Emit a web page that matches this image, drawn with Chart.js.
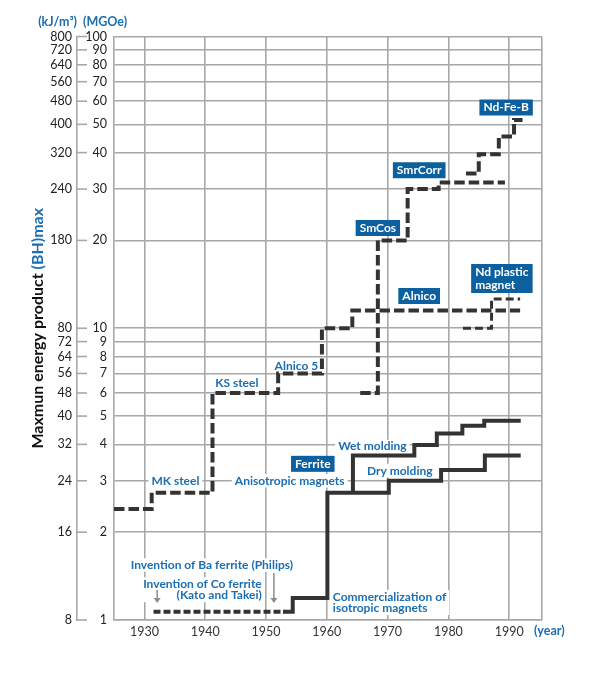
<!DOCTYPE html>
<html>
<head>
<meta charset="utf-8">
<script src="https://cdn.jsdelivr.net/npm/chart.js@4"></script>
<style>
  html, body { margin: 0; padding: 0; background: #fff; }
  #wrap { width: 606px; height: 674px; position: relative; }
</style>
</head>
<body>
<div id="wrap"><canvas id="chart"></canvas></div>
<script>
// year axis
const yearTicks = [1930, 1940, 1950, 1960, 1970, 1980, 1990];
// MGOe ticks and the kJ/m3 labels printed next to them
const mgoeTicks = [1, 2, 3, 4, 5, 6, 7, 8, 9, 10, 20, 30, 40, 50, 60, 70, 80, 90, 100];
const kjLabels = ['8', '16', '24', '32', '40', '48', '56', '64', '72', '80', '180', '240', '320', '400', '480', '560', '640', '720', '800'];

// MK steel -> KS steel -> Alnico 5 -> Alnico (year where each level starts)
const steelYears = [1925, 1931.2, 1941.2, 1952.0, 1959.2, 1964.2, 1991.8];
const steelLevels = [2.4, 2.73, 6.0, 7.0, 10, 11.5, 11.5];
// SmCo5 -> Sm2Co17
const smcoYears = [1965.5, 1968.4, 1973.3, 1978.4, 1989.3];
const smcoLevels = [6.0, 20, 30, 31.6, 31.6];
// Nd-Fe-B
const ndfebYears = [1982.9, 1985.0, 1988.3, 1990.8, 1992.2];
const ndfebLevels = [33.9, 39.5, 45.4, 51.7, 51.7];
// Nd plastic magnet
const ndPlasticYears = [1982.4, 1987.1, 1991.8];
const ndPlasticLevels = [10, 12.6, 12.6];
// ferrite before commercialization
const ferriteEarlyYears = [1931.5, 1953.0];
const ferriteEarlyLevels = [1.068, 1.068];
// ferrite, isotropic then dry molding
const dryYears = [1952.8, 1954.4, 1960.1, 1970.2, 1978.8, 1986.0, 1991.9];
const dryLevels = [1.068, 1.19, 2.73, 3.0, 3.27, 3.66, 3.66];
// wet molding branch
const wetYears = [1964.3, 1964.3, 1974.4, 1978.1, 1982.3, 1985.9, 1991.9];
const wetLevels = [2.73, 3.66, 3.98, 4.36, 4.63, 4.82, 4.82];

const blue = '#1b6eb2';
const boxBlue = '#0c609f';
const gridGray = '#a8a8a8';
const ink = '#333333';
const FONT = 'Lato, "Open Sans", sans-serif';
const labelFont = 'bold 12px ' + FONT;

// labels placed in data units (year, MGOe)
const notes = [
  { text: ['MK steel'], x: 1935.1, y: 3.0, kind: 'plain' },
  { text: ['Anisotropic magnets'], x: 1953.9, y: 3.0, kind: 'plain' },
  { text: ['KS steel'], x: 1945.2, y: 6.5, kind: 'plain' },
  { text: ['Alnico 5'], x: 1955.0, y: 7.42, kind: 'plain' },
  { text: ['Wet molding'], x: 1967.5, y: 3.93, kind: 'plain' },
  { text: ['Dry molding'], x: 1972.0, y: 3.25, kind: 'plain' },
  { text: ['Commercialization of', 'isotropic magnets'], x: 1961.0, y: 1.148, kind: 'plain', align: 'left' },
  { text: ['Invention of Ba ferrite (Philips)'], x: 1941.1, y: 1.543, kind: 'plain' },
  { text: ['Invention of Co ferrite', '(Kato and Takei)'], x: 1949.3, y: 1.27, kind: 'plain', align: 'right' },
  { text: ['Ferrite'], x: 1957.7, y: 3.43, kind: 'box' },
  { text: ['Alnico'], x: 1975.2, y: 12.9, kind: 'box' },
  { text: ['SmCos'], x: 1968.4, y: 22.06, kind: 'box' },
  { text: ['SmrCorr'], x: 1975.2, y: 34.8, kind: 'box' },
  { text: ['Nd plastic', 'magnet'], x: 1988.8, y: 14.81, kind: 'box', align: 'left' },
  { text: ['Nd-Fe-B'], x: 1989.5, y: 57.1, kind: 'box' }
];
const arrows = [
  { x: 1932.1, from: 1.267, to: 1.144 },
  { x: 1951.3, from: 1.449, to: 1.144 }
];

function pts(xs, ys) {
  return xs.map((x, i) => ({ x: x, y: ys[i] }));
}

const datasets = [
  { data: pts(steelYears, steelLevels), borderDash: [10.5, 4] },
  { data: pts(smcoYears, smcoLevels), borderDash: [10.5, 4] },
  { data: pts(ndfebYears, ndfebLevels), borderDash: [10.5, 4] },
  { data: pts(ndPlasticYears, ndPlasticLevels), borderDash: [8, 4], borderWidth: 3 },
  { data: pts(ferriteEarlyYears, ferriteEarlyLevels), borderDash: [7, 3] },
  { data: pts(dryYears, dryLevels) },
  { data: pts(wetYears, wetLevels) }
].map(d => Object.assign({
  borderColor: ink, borderWidth: 4, stepped: true, pointRadius: 0, fill: false,
  borderCapStyle: 'butt', borderJoinStyle: 'miter'
}, d));

function drawNotes(chart, kind) {
  const ctx = chart.ctx, xs = chart.scales.x, ys = chart.scales.y;
  ctx.save();
  ctx.font = labelFont;
  ctx.textBaseline = 'middle';
  notes.filter(n => n.kind === kind).forEach(n => {
    const px = xs.getPixelForValue(n.x), py = ys.getPixelForValue(n.y);
    const lh = kind === 'box' ? 13 : 11.5;
    const w = Math.max(...n.text.map(t => ctx.measureText(t).width));
    const h = lh * n.text.length;
    const align = n.align || 'center';
    let left;
    if (kind === 'box' || align === 'center') left = px - w / 2;
    else if (align === 'left') left = px;
    else left = px - w;
    const padX = kind === 'box' ? 4 : 3, padY = kind === 'box' ? 1.5 : 1;
    ctx.fillStyle = kind === 'box' ? boxBlue : '#fff';
    ctx.fillRect(left - padX, py - h / 2 - padY, w + 2 * padX, h + 2 * padY);
    ctx.fillStyle = kind === 'box' ? '#fff' : blue;
    ctx.textAlign = align;
    const tx = align === 'center' ? left + w / 2 : align === 'left' ? left : left + w;
    n.text.forEach((t, i) => ctx.fillText(t, tx, py - h / 2 + lh * (i + 0.5)));
  });
  ctx.restore();
}

function drawArrows(chart) {
  const ctx = chart.ctx, xs = chart.scales.x, ys = chart.scales.y;
  ctx.save();
  ctx.strokeStyle = '#8c8c8c';
  ctx.fillStyle = '#8c8c8c';
  ctx.lineWidth = 1.5;
  arrows.forEach(a => {
    const px = xs.getPixelForValue(a.x);
    const y0 = ys.getPixelForValue(a.from), y1 = ys.getPixelForValue(a.to);
    ctx.beginPath();
    ctx.moveTo(px, y0);
    ctx.lineTo(px, y1 - 4);
    ctx.stroke();
    ctx.beginPath();
    ctx.moveTo(px - 3.5, y1 - 5);
    ctx.lineTo(px + 3.5, y1 - 5);
    ctx.lineTo(px, y1);
    ctx.closePath();
    ctx.fill();
  });
  ctx.restore();
}

const extras = {
  id: 'extras',
  beforeDatasetsDraw(chart) {
    drawNotes(chart, 'plain');
    drawArrows(chart);
  },
  afterDatasetsDraw(chart) {
    drawNotes(chart, 'box');
  },
  afterDraw(chart) {
    const ctx = chart.ctx, kj = chart.scales.kj, ys = chart.scales.y, area = chart.chartArea;
    ctx.save();
    // little dashes between the two label columns
    ctx.strokeStyle = gridGray;
    ctx.lineWidth = 1.6;
    mgoeTicks.forEach(v => {
      const py = ys.getPixelForValue(v);
      ctx.beginPath();
      ctx.moveTo(kj.right, py);
      ctx.lineTo(kj.right + 10, py);
      ctx.stroke();
    });
    // unit headers
    ctx.font = 'bold 12.5px ' + FONT;
    ctx.fillStyle = blue;
    ctx.textBaseline = 'middle';
    ctx.textAlign = 'right';
    ctx.fillText('(kJ/m\u00b3)', kj.right, area.top - 15);
    ctx.textAlign = 'left';
    ctx.fillText('(MGOe)', kj.right + 6, area.top - 15);
    ctx.fillText('(year)', area.right - 8, area.bottom + 11);
    // rotated axis title, two colours
    ctx.translate(38, (area.top + area.bottom) / 2);
    ctx.rotate(-Math.PI / 2);
    ctx.font = 'bold 16px ' + FONT;
    const a = 'Maxmun energy product ', b = '(BH)max';
    const wa = ctx.measureText(a).width, wb = ctx.measureText(b).width;
    ctx.textAlign = 'left';
    ctx.fillStyle = '#111';
    ctx.fillText(a, -(wa + wb) / 2, 0);
    ctx.fillStyle = blue;
    ctx.fillText(b, -(wa + wb) / 2 + wa, 0);
    ctx.restore();
  }
};

const tickFont = { family: FONT, size: 12.5 };

new Chart(document.getElementById('chart'), {
  type: 'line',
  data: { datasets: datasets },
  options: {
    responsive: true,
    maintainAspectRatio: false,
    animation: false,
    layout: { padding: { top: 36.5, right: 64, bottom: 30, left: 0 } },
    plugins: { legend: { display: false }, tooltip: { enabled: false } },
    scales: {
      x: {
        type: 'linear', min: 1925, max: 1995.4,
        afterBuildTicks: s => { s.ticks = yearTicks.concat([1995.4]).map(v => ({ value: v })); },
        afterFit: s => { s.height = 24; },
        ticks: {
          callback: v => yearTicks.includes(v) ? String(v) : '',
          padding: 4, color: '#333', font: tickFont, maxRotation: 0, autoSkip: false
        },
        grid: { color: gridGray, lineWidth: 1.6, drawTicks: false },
        border: { color: gridGray, width: 1.6 }
      },
      y: {
        type: 'logarithmic', position: 'left', min: 1, max: 100, weight: 0,
        afterBuildTicks: s => { s.ticks = mgoeTicks.map(v => ({ value: v })); },
        afterFit: s => { s.width = 37; },
        ticks: { callback: v => String(v), padding: 7, color: '#222', font: tickFont, autoSkip: false },
        grid: { color: gridGray, lineWidth: 1.6, drawTicks: false },
        border: { color: gridGray, width: 1.6 }
      },
      kj: {
        type: 'logarithmic', position: 'left', min: 1, max: 100, weight: 1,
        afterBuildTicks: s => { s.ticks = mgoeTicks.map(v => ({ value: v })); },
        afterFit: s => { s.width = 77; },
        ticks: { callback: v => kjLabels[mgoeTicks.indexOf(v)], padding: 5, color: '#222', font: tickFont, autoSkip: false },
        grid: { drawOnChartArea: false, drawTicks: false },
        border: { color: gridGray, width: 1.6 }
      }
    }
  },
  plugins: [extras]
});
</script>
</body>
</html>
